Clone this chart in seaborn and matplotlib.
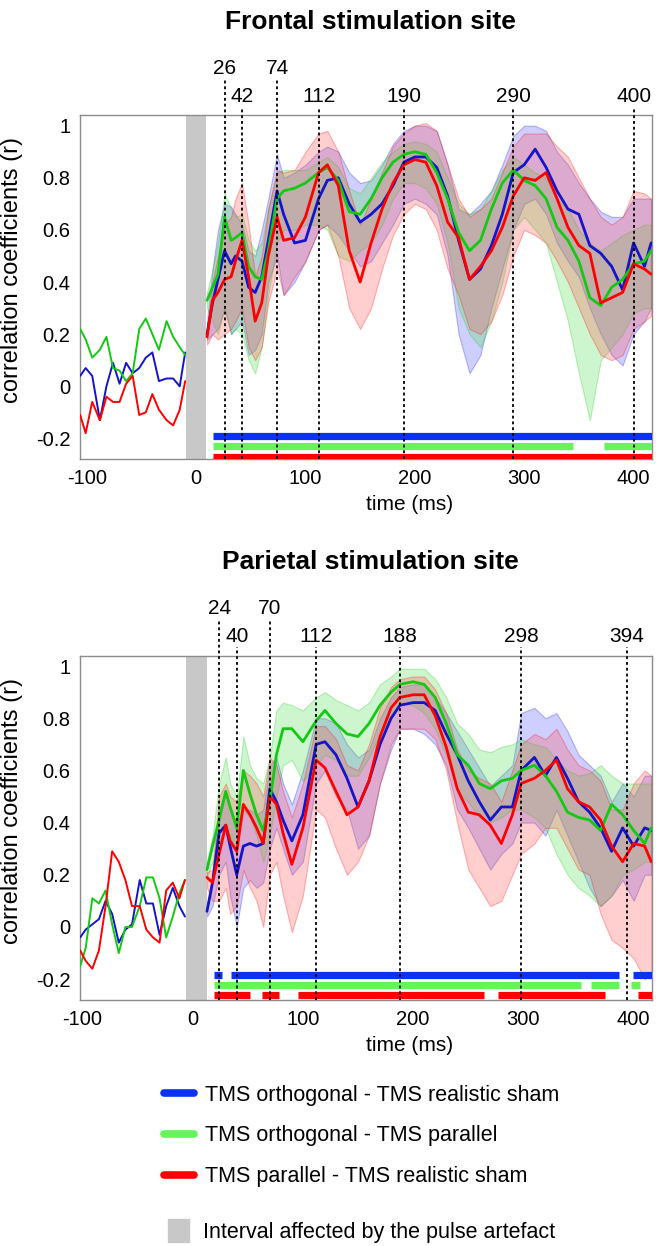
import numpy as np
import pandas as pd
import seaborn as sns
import matplotlib.pyplot as plt
import matplotlib.transforms as mtransforms
from matplotlib.lines import Line2D
from matplotlib.patches import Patch

sns.set_theme(style="white")
plt.rcParams["font.family"] = ["Liberation Sans", "DejaVu Sans"]
plt.rcParams["text.color"] = "black"
plt.rcParams["axes.labelcolor"] = "black"
plt.rcParams["xtick.color"] = "black"
plt.rcParams["ytick.color"] = "black"

contrasts = ["TMS orthogonal - TMS realistic sham",
             "TMS orthogonal - TMS parallel",
             "TMS parallel - TMS realistic sham"]
line_colors = ["#1414c8", "#14c814", "#ff0000"]
fill_colors = ["#5050ff", "#50e050", "#ff5050"]
bar_colors = ["#0a32f0", "#64f55a", "#ff0000"]
ticks_x = [-100, 0, 100, 200, 300, 400]
ticks_y = [-0.2, 0, 0.2, 0.4, 0.6, 0.8, 1]
ticklabels_y = ["-0.2", "0", "0.2", "0.4", "0.6", "0.8", "1"]

# ================= Frontal =================
f_t_pre = [-106, -101, -95, -88, -82, -76, -70, -64, -58, -52, -46, -40, -34, -27, -21, -15, -10]
f_os_pre = [0.04, 0.07, 0.04, -0.13, 0.00, 0.09, 0.01, 0.09, 0.05, 0.07, 0.11, 0.13, 0.02, 0.03, 0.03, 0.00, 0.13]
f_op_pre = [0.22, 0.18, 0.11, 0.14, 0.19, 0.07, 0.06, 0.02, 0.05, 0.22, 0.26, 0.20, 0.14, 0.25, 0.19, 0.15, 0.12]
f_ps_pre = [-0.11, -0.18, -0.06, -0.13, -0.04, -0.06, -0.06, 0.01, 0.04, -0.11, -0.10, -0.03, -0.09, -0.13, -0.15, -0.09, 0.02]

f_t = [10, 15, 20, 26, 32, 36, 42, 48, 54, 60, 66, 74, 80, 90, 100, 112, 120, 130, 140, 150,
       160, 170, 180, 190, 200, 210, 220, 230, 240, 250, 260, 270, 280, 290, 300, 310, 320, 330,
       340, 350, 360, 370, 380, 390, 400, 410, 416]
f_os = [0.20, 0.32, 0.41, 0.52, 0.47, 0.50, 0.48, 0.38, 0.36, 0.42, 0.56, 0.75, 0.66, 0.55, 0.56, 0.72, 0.79, 0.80, 0.70, 0.63,
        0.66, 0.70, 0.77, 0.86, 0.88, 0.88, 0.84, 0.73, 0.56, 0.41, 0.45, 0.54, 0.66, 0.82, 0.85, 0.91, 0.84, 0.75,
        0.68, 0.66, 0.54, 0.51, 0.46, 0.37, 0.55, 0.46, 0.55]
f_os_lo = [0.18, 0.20, 0.22, 0.30, 0.20, 0.22, 0.25, 0.12, 0.14, 0.20, 0.40, 0.50, 0.35, 0.40, 0.48, 0.60, 0.62, 0.58, 0.52, 0.46,
           0.48, 0.55, 0.62, 0.70, 0.72, 0.70, 0.66, 0.50, 0.20, 0.05, 0.12, 0.30, 0.45, 0.60, 0.70, 0.72, 0.66, 0.55,
           0.48, 0.42, 0.30, 0.20, 0.12, 0.08, 0.20, 0.25, 0.30]
f_os_hi = [0.25, 0.45, 0.60, 0.70, 0.69, 0.66, 0.62, 0.52, 0.50, 0.60, 0.72, 0.89, 0.80, 0.82, 0.85, 0.90, 0.92, 0.90, 0.82, 0.78,
           0.79, 0.85, 0.93, 0.98, 1.00, 1.00, 0.98, 0.85, 0.68, 0.66, 0.70, 0.75, 0.85, 0.96, 1.00, 1.00, 0.98, 0.90,
           0.85, 0.78, 0.72, 0.67, 0.65, 0.65, 0.72, 0.72, 0.72]
f_op = [0.33, 0.38, 0.43, 0.65, 0.56, 0.57, 0.59, 0.46, 0.42, 0.41, 0.52, 0.72, 0.75, 0.76, 0.78, 0.82, 0.84, 0.79, 0.67, 0.66,
        0.72, 0.80, 0.86, 0.89, 0.90, 0.89, 0.82, 0.72, 0.59, 0.52, 0.56, 0.68, 0.78, 0.83, 0.79, 0.77, 0.72, 0.61,
        0.56, 0.48, 0.34, 0.31, 0.38, 0.41, 0.47, 0.48, 0.52]
f_op_lo = [0.30, 0.25, 0.20, 0.30, 0.20, 0.22, 0.20, 0.10, 0.05, 0.15, 0.35, 0.55, 0.60, 0.60, 0.62, 0.62, 0.60, 0.50, 0.48, 0.52,
           0.55, 0.62, 0.72, 0.78, 0.78, 0.76, 0.70, 0.55, 0.30, 0.20, 0.15, 0.25, 0.40, 0.60, 0.65, 0.60, 0.55, 0.40,
           0.25, 0.05, -0.13, 0.10, 0.15, 0.20, 0.28, 0.30, 0.30]
f_op_hi = [0.36, 0.45, 0.55, 0.74, 0.68, 0.65, 0.66, 0.56, 0.52, 0.55, 0.68, 0.82, 0.83, 0.83, 0.83, 0.86, 0.88, 0.84, 0.76, 0.74,
           0.80, 0.86, 0.90, 0.93, 0.94, 0.93, 0.90, 0.80, 0.70, 0.66, 0.68, 0.75, 0.83, 0.88, 0.85, 0.82, 0.80, 0.72,
           0.68, 0.60, 0.55, 0.52, 0.55, 0.58, 0.60, 0.62, 0.62]
f_ps = [0.19, 0.33, 0.36, 0.41, 0.42, 0.48, 0.56, 0.42, 0.25, 0.32, 0.50, 0.65, 0.56, 0.57, 0.65, 0.82, 0.85, 0.77, 0.52, 0.40,
        0.55, 0.68, 0.78, 0.85, 0.87, 0.86, 0.77, 0.63, 0.57, 0.41, 0.46, 0.52, 0.61, 0.73, 0.80, 0.79, 0.82, 0.72,
        0.61, 0.54, 0.51, 0.32, 0.34, 0.36, 0.47, 0.45, 0.43]
f_ps_lo = [0.16, 0.20, 0.18, 0.20, 0.22, 0.25, 0.30, 0.15, 0.10, 0.15, 0.32, 0.45, 0.35, 0.42, 0.48, 0.60, 0.62, 0.50, 0.30, 0.22,
           0.30, 0.45, 0.58, 0.66, 0.70, 0.68, 0.60, 0.45, 0.35, 0.22, 0.20, 0.25, 0.35, 0.50, 0.60, 0.58, 0.55, 0.48,
           0.40, 0.30, 0.20, 0.12, 0.10, 0.12, 0.22, 0.25, 0.27]
f_ps_hi = [0.22, 0.40, 0.50, 0.62, 0.65, 0.72, 0.78, 0.62, 0.42, 0.50, 0.68, 0.83, 0.82, 0.83, 0.90, 0.97, 0.98, 0.90, 0.75, 0.62,
           0.72, 0.82, 0.92, 0.97, 1.00, 1.01, 0.98, 0.85, 0.72, 0.65, 0.68, 0.72, 0.82, 0.92, 0.97, 0.97, 0.97, 0.92,
           0.88, 0.80, 0.72, 0.65, 0.62, 0.65, 0.75, 0.74, 0.72]
f_marks = [26, 42, 74, 112, 190, 290, 400]
f_marks_up = [26, 74]
f_sig_os = [(15, 417)]
f_sig_op = [(15, 345), (373, 417)]
f_sig_ps = [(15, 417)]

# ================= Parietal =================
p_t_pre = [-102, -97, -91, -85, -79, -73, -67, -61, -55, -48, -42, -36, -30, -24, -18, -12, -7]
p_os_pre = [-0.04, -0.01, 0.01, 0.03, 0.10, 0.05, -0.06, -0.01, 0.01, 0.18, 0.09, 0.09, -0.03, 0.08, 0.15, 0.08, 0.04]
p_op_pre = [-0.15, -0.08, 0.11, 0.09, 0.14, 0.01, -0.10, 0.00, 0.00, 0.08, 0.19, 0.19, 0.11, -0.04, 0.04, 0.13, 0.18]
p_ps_pre = [-0.09, -0.13, -0.16, -0.09, 0.08, 0.29, 0.25, 0.18, 0.08, 0.08, -0.01, -0.04, -0.06, 0.14, 0.17, 0.11, 0.18]

p_t = [13, 18, 24, 30, 34, 40, 46, 52, 58, 64, 70, 76, 82, 90, 100, 112, 120, 130, 140, 150,
       160, 170, 180, 188, 200, 210, 220, 230, 240, 250, 260, 270, 280, 290, 298, 310, 320, 330,
       340, 350, 360, 370, 380, 390, 400, 410, 416]
p_os = [0.06, 0.17, 0.36, 0.39, 0.31, 0.20, 0.31, 0.32, 0.31, 0.32, 0.53, 0.48, 0.41, 0.33, 0.43, 0.70, 0.71, 0.66, 0.57, 0.46,
        0.56, 0.70, 0.80, 0.85, 0.86, 0.86, 0.83, 0.74, 0.66, 0.56, 0.48, 0.41, 0.46, 0.46, 0.60, 0.65, 0.58, 0.65,
        0.57, 0.48, 0.44, 0.38, 0.29, 0.38, 0.31, 0.38, 0.37]
p_os_lo = [0.04, 0.08, 0.20, 0.25, 0.12, 0.00, 0.15, 0.18, 0.15, 0.17, 0.30, 0.38, 0.30, 0.20, 0.25, 0.55, 0.60, 0.50, 0.45, 0.30,
           0.35, 0.55, 0.68, 0.76, 0.76, 0.74, 0.70, 0.62, 0.45, 0.38, 0.30, 0.22, 0.28, 0.32, 0.40, 0.40, 0.35, 0.45,
           0.35, 0.25, 0.15, 0.08, 0.12, 0.18, 0.10, 0.20, 0.20]
p_os_hi = [0.08, 0.20, 0.45, 0.52, 0.45, 0.40, 0.45, 0.45, 0.43, 0.45, 0.62, 0.65, 0.55, 0.47, 0.60, 0.80, 0.80, 0.78, 0.70, 0.65,
           0.68, 0.80, 0.88, 0.92, 0.93, 0.93, 0.88, 0.82, 0.75, 0.68, 0.61, 0.54, 0.58, 0.62, 0.82, 0.84, 0.80, 0.82,
           0.75, 0.66, 0.62, 0.58, 0.48, 0.55, 0.50, 0.58, 0.58]
p_op = [0.22, 0.31, 0.41, 0.52, 0.46, 0.38, 0.60, 0.51, 0.43, 0.37, 0.48, 0.66, 0.76, 0.76, 0.71, 0.79, 0.83, 0.78, 0.74, 0.73,
        0.78, 0.85, 0.90, 0.93, 0.94, 0.93, 0.88, 0.78, 0.66, 0.62, 0.55, 0.53, 0.56, 0.57, 0.60, 0.62, 0.58, 0.52,
        0.44, 0.42, 0.41, 0.37, 0.47, 0.43, 0.37, 0.32, 0.38]
p_op_lo = [0.19, 0.25, 0.30, 0.40, 0.35, 0.28, 0.45, 0.42, 0.35, 0.25, 0.35, 0.50, 0.62, 0.64, 0.56, 0.62, 0.66, 0.64, 0.58, 0.58,
           0.65, 0.74, 0.80, 0.86, 0.85, 0.82, 0.76, 0.66, 0.52, 0.48, 0.42, 0.40, 0.42, 0.45, 0.45, 0.42, 0.38, 0.28,
           0.20, 0.15, 0.12, 0.08, 0.12, 0.20, 0.22, 0.25, 0.25]
p_op_hi = [0.25, 0.35, 0.55, 0.65, 0.55, 0.50, 0.73, 0.62, 0.57, 0.55, 0.65, 0.83, 0.86, 0.85, 0.83, 0.88, 0.90, 0.87, 0.85, 0.83,
           0.86, 0.93, 0.96, 0.99, 0.99, 0.99, 0.95, 0.88, 0.78, 0.74, 0.68, 0.67, 0.69, 0.70, 0.72, 0.70, 0.69, 0.64,
           0.60, 0.58, 0.59, 0.62, 0.58, 0.55, 0.55, 0.55, 0.55]
p_ps = [0.19, 0.17, 0.28, 0.39, 0.33, 0.29, 0.47, 0.43, 0.38, 0.32, 0.50, 0.47, 0.36, 0.24, 0.38, 0.64, 0.61, 0.52, 0.43, 0.46,
        0.56, 0.73, 0.84, 0.88, 0.89, 0.89, 0.81, 0.69, 0.53, 0.44, 0.43, 0.39, 0.32, 0.43, 0.55, 0.57, 0.60, 0.64,
        0.53, 0.48, 0.46, 0.41, 0.31, 0.25, 0.32, 0.31, 0.25]
p_ps_lo = [0.15, 0.10, 0.10, 0.15, 0.05, 0.08, 0.22, 0.15, 0.10, 0.00, 0.20, 0.25, 0.12, -0.02, 0.12, 0.45, 0.42, 0.30, 0.20, 0.25,
           0.35, 0.55, 0.70, 0.76, 0.76, 0.76, 0.72, 0.60, 0.40, 0.22, 0.15, 0.08, 0.10, 0.20, 0.28, 0.32, 0.38, 0.38,
           0.30, 0.22, 0.20, 0.05, -0.05, -0.08, -0.12, -0.20, -0.18]
p_ps_hi = [0.21, 0.22, 0.50, 0.55, 0.50, 0.48, 0.60, 0.58, 0.55, 0.50, 0.65, 0.62, 0.52, 0.42, 0.55, 0.77, 0.77, 0.72, 0.62, 0.60,
           0.70, 0.84, 0.92, 0.95, 0.96, 0.96, 0.91, 0.82, 0.68, 0.60, 0.57, 0.55, 0.48, 0.60, 0.70, 0.74, 0.72, 0.76,
           0.68, 0.62, 0.60, 0.56, 0.45, 0.45, 0.55, 0.60, 0.58]
p_marks = [24, 40, 70, 112, 188, 298, 394]
p_marks_up = [24, 70]
p_sig_os = [(19, 27), (35, 387), (399, 417)]
p_sig_op = [(19, 352), (361, 387), (398, 406)]
p_sig_ps = [(19, 52), (63, 78), (96, 264), (277, 374), (404, 417)]


def long_df(t, series):
    parts = [pd.DataFrame({"t": t, "r": s, "contrast": c}) for c, s in zip(contrasts, series)]
    return pd.concat(parts, ignore_index=True)


def draw_panel(ax, title, t_pre, pre, t, means, los, his, marks, marks_up, sigs, xlim, art, bar_y):
    pal = dict(zip(contrasts, line_colors))
    ax.axvspan(art[0], art[1], color="#c8c8c8", lw=0, zorder=1)
    for lo, hi, fc, lc in zip(los, his, fill_colors, line_colors):
        ax.fill_between(t, lo, hi, facecolor=fc, edgecolor=lc, alpha=0.28, lw=0.8, zorder=2)
    sns.lineplot(data=long_df(t_pre, pre), x="t", y="r", hue="contrast", palette=pal,
                 estimator=None, sort=False, lw=1.4, legend=False, ax=ax, zorder=3)
    sns.lineplot(data=long_df(t, means), x="t", y="r", hue="contrast", palette=pal,
                 estimator=None, sort=False, lw=2.0, legend=False, ax=ax, zorder=3)
    for intervals, col, y in zip(sigs, bar_colors, bar_y):
        for a, b in intervals:
            ax.hlines(y, a, b, color=col, lw=5.2, zorder=4)
    trans = mtransforms.blended_transform_factory(ax.transData, ax.transAxes)
    for m in marks:
        up = m in marks_up
        ax.axvline(m, ymin=0, ymax=1.105 if up else 1.025, color="black", ls=(0, (1.6, 1.6)),
                   lw=1.3, clip_on=False, zorder=5)
        ax.text(m, 1.137 if up else 1.055, str(m), transform=trans, ha="center", va="center", fontsize=15)
    ax.set_xlim(*xlim)
    ax.set_ylim(-0.28, 1.04)
    ax.set_xticks(ticks_x)
    ax.set_xticklabels([str(v) for v in ticks_x])
    ax.set_yticks(ticks_y)
    ax.set_yticklabels(ticklabels_y)
    ax.tick_params(length=0, labelsize=14.5, pad=7)
    ax.set_xlabel("time (ms)", fontsize=15)
    ax.xaxis.set_label_coords(0.577, -0.105)
    ax.set_ylabel("correlation coefficients (r)", fontsize=17)
    ax.yaxis.set_label_coords(-0.1, 0.55)
    for s in ax.spines.values():
        s.set_color("#8c8c8c")
        s.set_linewidth(1.0)
    ax.figure.text(0.559, ax.get_position().y1 + 0.075, title, ha="center", va="center",
                   fontsize=19, fontweight="bold")


fig = plt.figure(figsize=(6.62, 12.46), dpi=100)
ax1 = fig.add_axes([0.1208, 0.6314, 0.864, 0.2761])
ax2 = fig.add_axes([0.1208, 0.1974, 0.864, 0.2764])

draw_panel(ax1, "Frontal stimulation site", f_t_pre, [f_os_pre, f_op_pre, f_ps_pre],
           f_t, [f_os, f_op, f_ps], [f_os_lo, f_op_lo, f_ps_lo], [f_os_hi, f_op_hi, f_ps_hi],
           f_marks, f_marks_up, [f_sig_os, f_sig_op, f_sig_ps], (-106.2, 416.8), (-9.1, 9.3),
           [-0.19, -0.23, -0.27])
draw_panel(ax2, "Parietal stimulation site", p_t_pre, [p_os_pre, p_op_pre, p_ps_pre],
           p_t, [p_os, p_op, p_ps], [p_os_lo, p_op_lo, p_ps_lo], [p_os_hi, p_op_hi, p_ps_hi],
           p_marks, p_marks_up, [p_sig_os, p_sig_op, p_sig_ps], (-102.2, 416.6), (-6.2, 12.6),
           [-0.185, -0.223, -0.262])

handles = [Line2D([], [], color=c, lw=5.5) for c in bar_colors]
fig.legend(handles, contrasts, loc="upper left", bbox_to_anchor=(0.248, 0.1295), frameon=False,
           fontsize=15.5, handlelength=1.4, handletextpad=0.5, labelspacing=0.92,
           borderpad=0, borderaxespad=0)
fig.legend([Patch(color="#c8c8c8")], ["Interval affected by the pulse artefact"], loc="upper left",
           bbox_to_anchor=(0.254, 0.0215), frameon=False, fontsize=15.5, handlelength=0.95,
           handleheight=1.25, handletextpad=0.65, borderpad=0, borderaxespad=0)

fig.savefig("out.png", dpi=100)
